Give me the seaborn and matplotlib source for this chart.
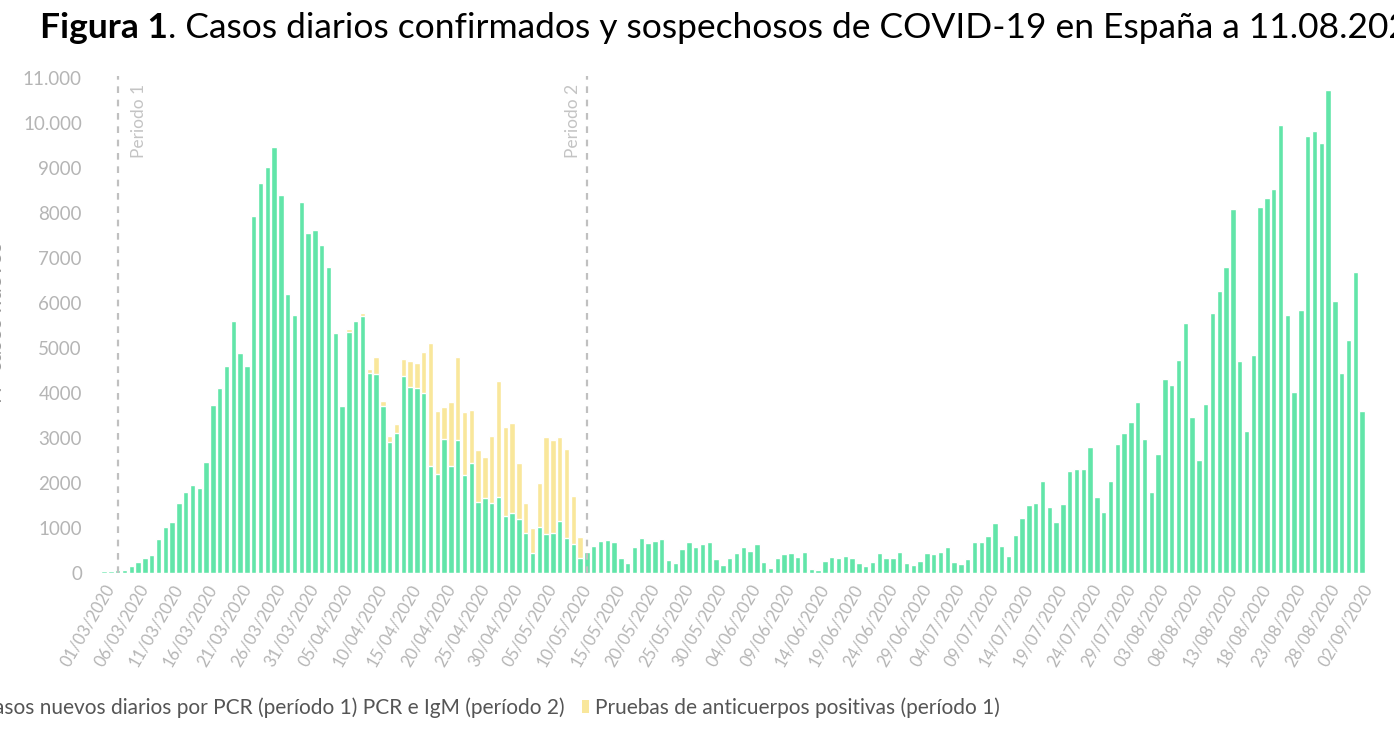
import numpy as np
import pandas as pd
import matplotlib
matplotlib.use("Agg")
import matplotlib.pyplot as plt
import seaborn as sns
from matplotlib.patches import Patch

# daily dates, 01/03/2020 .. 02/09/2020
fechas = pd.date_range("2020-03-01", "2020-09-02", freq="D").strftime("%d/%m/%Y")

# cases by PCR (period 1) / PCR + IgM (period 2)
pcr = [
    40, 40, 60, 75, 165, 240, 325, 390, 755, 1020, 1130, 1560, 1800, 1960, 1890, 2470,
    3735, 4100, 4590, 5600, 4880, 4600, 7940, 8670, 9020, 9457, 8400, 6200, 5730, 8250,
    7560, 7615, 7280, 6790, 5340, 3700,
    5363, 5607, 5711, 4452, 4422, 3711, 2919, 3119, 4385, 4126, 4119, 4007, 2378, 2200,
    2970, 2378, 2963, 2178, 2437, 1585, 1659, 1563, 1681, 1267, 1341, 1207, 881, 452,
    1030, 859, 881, 1163, 785, 652, 326,
    474, 607, 719, 733, 696, 326, 230, 585, 770, 659, 719, 748, 289, 230, 526, 696, 585,
    644, 696, 304, 178, 326, 452, 570, 489, 637, 237, 119, 326, 415, 437, 348, 459, 89,
    67, 274, 363, 341, 385, 326, 215, 156, 237, 437, 326, 341, 459, 230, 178, 267, 437,
    422, 474, 570, 252, 193, 304, 696, 696, 822, 1119,
    607, 378, 844, 1215, 1511, 1563, 2044, 1474, 1141, 1533, 2274, 2304, 2304, 2793,
    1696, 1363, 2044, 2867, 3104, 3363, 3807, 2978, 1793, 2644, 4304, 4178, 4733, 5548,
    3459, 2518, 3755, 5778, 6274, 6792, 8096, 4704, 3148, 4837, 8126, 8333, 8533, 9963,
    5726, 4022, 5837, 9703, 9829, 9555, 10725, 6052, 4444, 5185, 6689, 3592,
]

# positive antibody tests (period 1), from 06/04/2020 to 10/05/2020
anticuerpos_desde = "06/04/2020"
anticuerpos = [
    52, 13, 59, 74, 385, 119, 125, 192, 363, 585, 555, 911, 2740, 1400, 726, 1429, 1830,
    1407, 1185, 1148, 911, 1481, 2586, 1970, 1985, 1245, 667, 541, 963, 2171, 2075, 1867,
    1963, 1059, 481,
]

periodos = ["03/03/2020", "11/05/2020"]
periodo_labels = ["Periodo 1", "Periodo 2"]

verde = "#62e5a9"
amarillo = "#f9e79b"
gris = "#b5b5b5"

df = pd.DataFrame({"fecha": fechas, "pcr": pcr})
df["anticuerpos"] = 0
i0 = list(fechas).index(anticuerpos_desde)
df.loc[i0:i0 + len(anticuerpos) - 1, "anticuerpos"] = anticuerpos
df["total"] = df["pcr"] + df["anticuerpos"]

sns.set_theme(style="white")
plt.rcParams["font.family"] = ["Lato", "DejaVu Sans"]

fig = plt.figure(figsize=(13.94, 7.29), dpi=100)
ax = fig.add_axes([0.0717, 0.214, 0.9083, 0.679])

# stacked bars: total (yellow) behind, PCR (green) in front
sns.barplot(data=df, x="fecha", y="total", color=amarillo, saturation=1,
            errorbar=None, width=0.8, ax=ax)
sns.barplot(data=df, x="fecha", y="pcr", color=verde, saturation=1,
            errorbar=None, width=0.8, ax=ax)

ax.set_xlim(-0.6, len(df) - 0.4)
ax.set_ylim(0, 11000)
sns.despine(ax=ax, left=True, bottom=True)

yt = np.arange(0, 11001, 1000)
ax.set_yticks(yt)
ax.set_yticklabels([f"{v:,}".replace(",", ".") if v >= 10000 else str(v) for v in yt],
                   color=gris, fontsize=13.5)
pos = np.arange(0, len(df), 5)
ax.set_xticks(pos)
ax.set_xticklabels(df["fecha"].iloc[pos], rotation=60, ha="right",
                   rotation_mode="anchor", color=gris, fontsize=12)
ax.tick_params(axis="both", length=0)
ax.tick_params(axis="y", pad=13)
ax.tick_params(axis="x", pad=6)
ax.set_xlabel("")
ax.set_ylabel("")

# period markers
for f, lab, dx, in zip(periodos, periodo_labels, [3.2, -2.0]):
    xi = list(fechas).index(f)
    ax.vlines(xi, 0, 11050, colors="#c0c0c0", linestyles=(0, (3, 3)), lw=1.6,
              clip_on=False)
    ax.text(xi + dx, 10880, lab, rotation=90, ha="center", va="top",
            color="#c4c4c4", fontsize=12.5)

fig.text(0.0043, 0.558, "Nº casos nuevos", rotation=90, ha="right", va="center",
         color="#9a9a9a", fontsize=16)

# title (bold part + regular part)
t1 = fig.text(40 / 1394, 1 - 28 / 729, "Figura 1", fontsize=25.5, fontweight="bold",
              color="black", va="center", ha="left")
fig.canvas.draw()
bb = t1.get_window_extent()
fig.text(bb.x1 / 1394, 1 - 28 / 729,
         ". Casos diarios confirmados y sospechosos de COVID-19 en España a 11.08.2020",
         fontsize=25.5, color="black", va="center", ha="left")

handles = [Patch(facecolor=verde, edgecolor="none"),
           Patch(facecolor=amarillo, edgecolor="none")]
fig.legend(handles,
           ["Casos nuevos diarios por PCR (período 1) PCR e IgM (período 2)",
            "Pruebas de anticuerpos positivas (período 1)"],
           loc="center left", bbox_to_anchor=(-33 / 1394, 21 / 729), ncol=2,
           frameon=False, fontsize=15, labelcolor="#555555", handlelength=0.34,
           handleheight=0.58, handletextpad=0.29, columnspacing=0.82,
           borderpad=0, borderaxespad=0)

fig.savefig("out.png", dpi=100)
